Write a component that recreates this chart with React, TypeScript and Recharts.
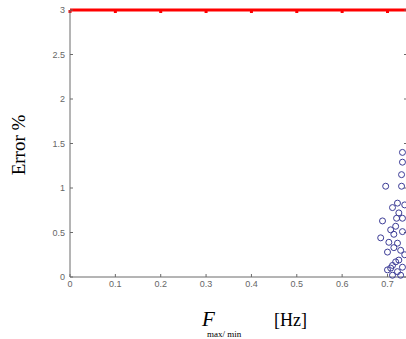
import {
  ScatterChart,
  Scatter,
  XAxis,
  YAxis,
} from "recharts";

// frequency values (Hz)
const freqs = [
  0.733, 0.733, 0.731, 0.696, 0.731, 0.722, 0.711, 0.725, 0.733, 0.689,
  0.718, 0.707, 0.714, 0.685, 0.733, 0.703, 0.722, 0.714, 0.7, 0.729,
  0.725, 0.711, 0.733, 0.7, 0.722, 0.711, 0.729, 0.718, 0.707, 0.738,
  0.738, 0.72,
];
// error values (%)
const errors = [
  1.4, 1.29, 1.15, 1.02, 1.02, 0.83, 0.78, 0.72, 0.66, 0.63,
  0.57, 0.53, 0.48, 0.44, 0.51, 0.39, 0.38, 0.33, 0.28, 0.3,
  0.19, 0.13, 0.11, 0.08, 0.06, 0.02, 0.02, 0.17, 0.1, 0.25,
  0.81, 0.66,
];
const xTicks = [0, 0.1, 0.2, 0.3, 0.4, 0.5, 0.6, 0.7];
const yTicks = [0, 0.5, 1, 1.5, 2, 2.5, 3];

const points = freqs.map((f, i) => ({ f, err: errors[i] }));

const axisColor = "#6a6a6a";
const tickStyle = { fontSize: 9, fill: "#666", fontFamily: "Liberation Sans, Arial" };

/** hollow circle marker */
const Ring = (props: any) => (
  <circle cx={props.cx} cy={props.cy} r={3} fill="none" stroke="#3c3c96" strokeWidth={1} />
);

const XTitle = () => (
  <text fontFamily="Liberation Serif, Times New Roman, serif" fill="#000">
    <tspan x={202} y={326} fontSize={21} fontStyle="italic">F</tspan>
    <tspan x={207} y={337} fontSize={9}>max/ min</tspan>
    <tspan x={274} y={326} fontSize={18}>[Hz]</tspan>
  </text>
);

const YTitle = () => (
  <text
    x={0}
    y={0}
    transform="translate(25, 145) rotate(-90)"
    textAnchor="middle"
    fontFamily="Liberation Serif, Times New Roman, serif"
    fontSize={19}
    fill="#000"
  >
    Error %
  </text>
);

const App = () => {
  return (
    <div
      style={{
        position: "absolute",
        left: 0,
        top: 0,
        width: 406,
        height: 339,
        overflow: "hidden",
        background: "#fff",
      }}
    >
      <ScatterChart
        width={420}
        height={339}
        margin={{ top: 5, right: 12, left: 40, bottom: 42 }}
      >
        <XAxis
          xAxisId="bottom"
          type="number"
          dataKey="f"
          domain={[0, 0.743]}
          ticks={xTicks}
          height={20}
          tickSize={-3}
          tickMargin={7}
          tick={tickStyle}
          stroke={axisColor}
          tickFormatter={(v) => `${v}`}
          label={{ content: () => <XTitle /> }}
        />
        <XAxis
          xAxisId="top"
          orientation="top"
          type="number"
          dataKey="f"
          domain={[0, 0.743]}
          ticks={xTicks}
          height={5}
          tickSize={-3}
          tickFormatter={() => ""}
          stroke="red"
          strokeWidth={3}
        />
        <YAxis
          yAxisId="left"
          type="number"
          dataKey="err"
          domain={[0, 3]}
          ticks={yTicks}
          width={30}
          tickSize={-3}
          tickMargin={8}
          tick={tickStyle}
          stroke={axisColor}
          label={{ content: () => <YTitle /> }}
        />
        <YAxis
          yAxisId="right"
          orientation="right"
          type="number"
          dataKey="err"
          domain={[0, 3]}
          ticks={yTicks}
          width={1}
          tickSize={-3}
          tickFormatter={() => ""}
          stroke={axisColor}
        />
        {/* invisible series so the top/right box axes get drawn */}
        <Scatter
          data={points}
          xAxisId="top"
          yAxisId="right"
          fill="transparent"
          isAnimationActive={false}
        />
        <Scatter
          data={points}
          xAxisId="bottom"
          yAxisId="left"
          shape={Ring}
          isAnimationActive={false}
        />
      </ScatterChart>
    </div>
  );
};

export default App;
